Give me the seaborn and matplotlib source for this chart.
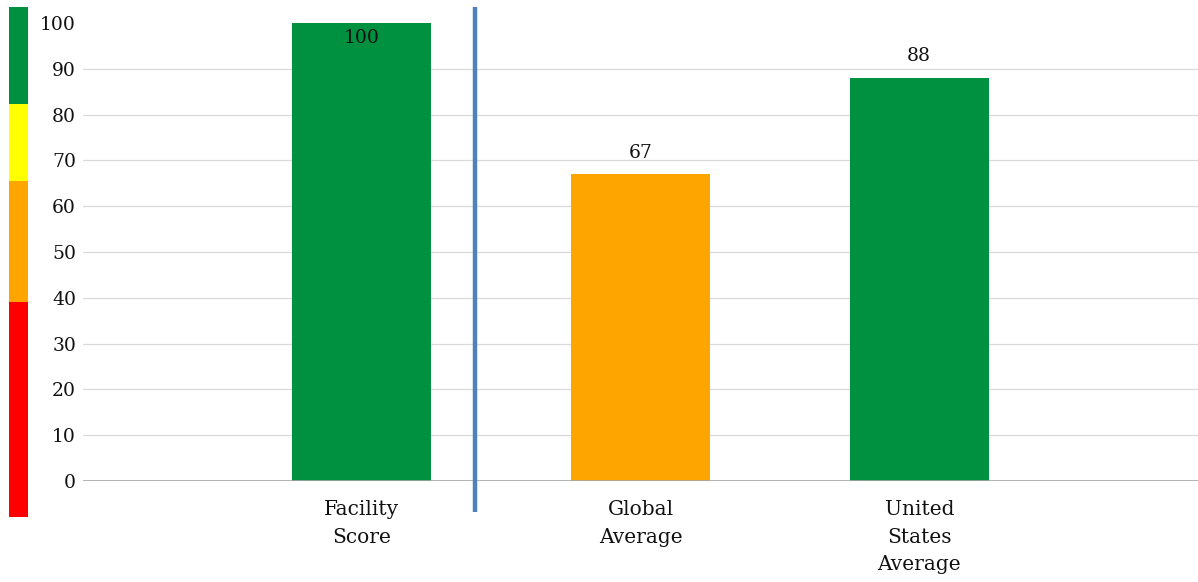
import numpy as np
import pandas as pd
import seaborn as sns
import matplotlib.pyplot as plt

# chart data
categories = ['Facility\nScore', 'Global\nAverage', 'United\nStates\nAverage']
scores = [100, 67, 88]
bar_colors = ['#009140', '#FFA500', '#009140']

# rating scale strip on the far left (lower / upper bound of each band)
band_low = [-7.8, 39, 65.4, 82.4]
band_high = [39, 65.4, 82.4, 103.5]
band_colors = ['#FF0000', '#FFA500', '#FFFF00', '#009140']

y_ticks = [0, 10, 20, 30, 40, 50, 60, 70, 80, 90, 100]

# divider between facility score and the averages
divider_x = 0.405
divider_span = (-6.8, 103.5)

sns.set_theme(style='white')
plt.rcParams['font.family'] = ['DejaVu Serif', 'DejaVu Sans']

W, H = 1198, 582
fig = plt.figure(figsize=(W / 100, H / 100), dpi=100)

# main axes: 0 at y=481px, 100 at y=23px, x from 83px to right edge
ax = fig.add_axes([83 / W, (H - 481) / H, (W - 83) / W, 458 / H])

df = pd.DataFrame({'cat': categories, 'score': scores})
sns.barplot(data=df, x='cat', y='score', hue='cat', palette=bar_colors,
            width=0.5, legend=False, saturation=1, linewidth=0, ax=ax)

ax.set_xlim(-1, 3)
ax.set_ylim(0, 100)
ax.set_yticks(y_ticks)
ax.set_xlabel('')
ax.set_ylabel('')
for s in ax.spines.values():
    s.set_visible(False)

# horizontal gridlines (none at the top)
for t in y_ticks[1:-1]:
    ax.axhline(t, color='#D9D9D9', lw=0.9, zorder=0)
ax.axhline(0, color='#A6A6A6', lw=1.2, zorder=3)

ax.tick_params(axis='y', length=0, pad=5, labelsize=13.5, labelcolor='#111111')
ax.tick_params(axis='x', length=0, pad=14, labelsize=14.5, labelcolor='#111111')
for lab in ax.get_xticklabels():
    lab.set_linespacing(1.55)

# value labels
for i, v in enumerate(scores):
    if v >= 100:
        ax.annotate(str(v), (i, v), xytext=(0, -4), textcoords='offset points',
                    ha='center', va='top', fontsize=13.5, color='#111111')
    else:
        ax.annotate(str(v), (i, v), xytext=(0, 9), textcoords='offset points',
                    ha='center', va='bottom', fontsize=13.5, color='#111111')

# blue divider line
ax.plot([divider_x, divider_x], list(divider_span), color='#4F81BD', lw=3.2,
        clip_on=False, zorder=4, solid_capstyle='butt')

# colour scale strip, same vertical scale as main axes
sax = fig.add_axes([9 / W, (H - 481) / H, 19 / W, 458 / H])
sax.bar([0] * len(band_low), np.array(band_high) - np.array(band_low),
        bottom=band_low, color=band_colors, width=1, linewidth=0, clip_on=False)
sax.set_xlim(-0.5, 0.5)
sax.set_ylim(0, 100)
sax.axis('off')

fig.savefig('out.png', dpi=100)
